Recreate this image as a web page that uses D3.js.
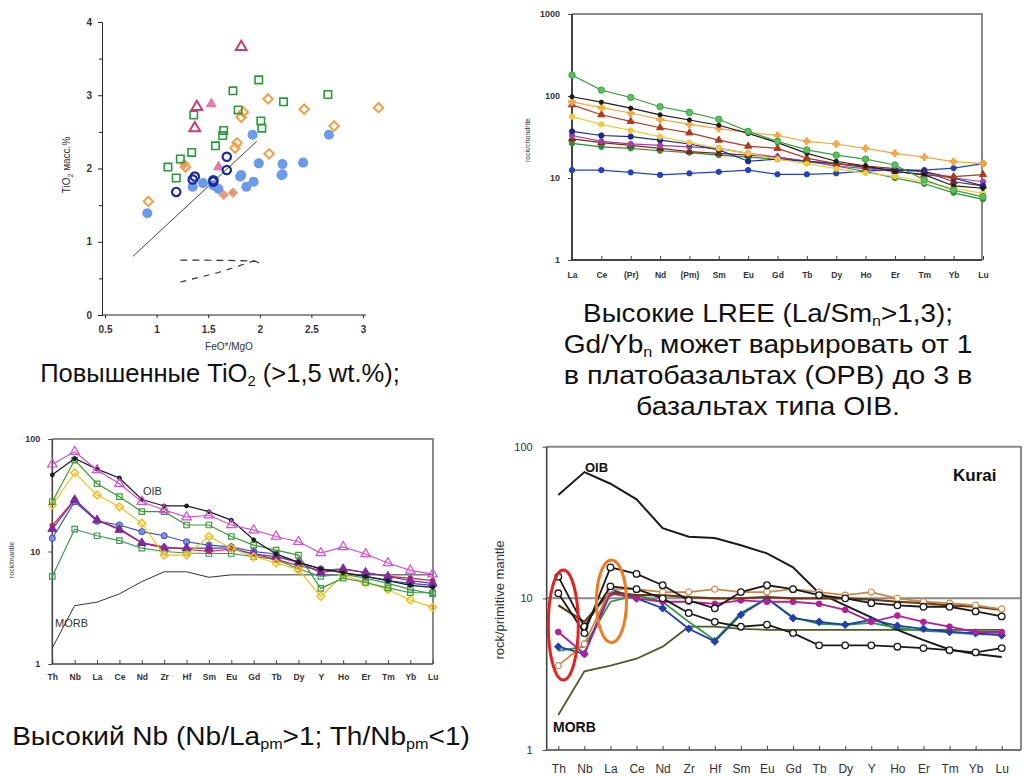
<!DOCTYPE html>
<html lang="ru">
<head>
<meta charset="UTF-8">
<title>TiO2, REE, spider diagrams</title>
<style>
  body { margin: 0; background: #fff; }
  svg { display: block; font-family: "Liberation Sans", Arial, sans-serif; }
</style>
<script src="https://d3js.org/d3.v7.min.js"></script>
</head>
<body>
<div id="chart"></div>
<script>
// ---------- panel 1: TiO2 vs FeO*/MgO ----------
const tio2TriOpen = [[1.82,3.66],[1.39,2.84],[1.37,2.55]];
const tio2TriFilled = [[1.53,2.88],[1.60,2.02]];
const tio2Squares = [[1.99,3.21],[1.74,3.06],[2.23,2.91],[2.66,3.01],[1.36,2.73],[1.79,2.80],[2.01,2.65],[2.02,2.55],[1.65,2.52],[1.64,2.45],[1.57,2.31],[1.34,2.22],[1.23,2.13],[1.11,2.02],[1.19,1.87]];
const tio2Diamonds = [[2.08,2.95],[2.43,2.81],[3.15,2.83],[2.72,2.58],[1.84,2.77],[1.82,2.70],[1.78,2.35],[2.09,2.20],[1.28,2.02],[0.92,1.55],[1.76,2.28]];
const tio2DiamondsFilled = [[1.65,1.64],[1.74,1.67],[1.27,2.06]];
const tio2Dots = [[1.93,2.46],[2.67,2.46],[1.99,2.07],[2.22,2.06],[2.42,2.08],[2.22,1.92],[1.82,1.91],[0.91,1.39],[1.35,1.75],[1.55,1.77],[1.81,1.89],[1.87,1.75],[1.94,1.82],[2.21,1.91],[1.45,1.80],[1.60,1.72]];
const tio2Rings = [[1.68,2.16],[1.68,1.98],[1.37,1.89],[1.55,1.84],[1.19,1.68],[1.35,1.85],[1.55,1.82]];
const tio2Trend = [[0.77,0.80],[1.97,2.37]];
const tio2DashUpper = [[1.23,0.75],[1.87,0.74],[1.96,0.73],[2.0,0.70]];
const tio2DashLower = [[1.23,0.45],[1.60,0.58],[1.97,0.75]];
const tio2XTicks = [0.5,1,1.5,2,2.5,3];
const tio2YTicks = [0,1,2,3,4];

// ---------- panel 2: REE / chondrite ----------
const reeCats = ["La","Ce","(Pr)","Nd","(Pm)","Sm","Eu","Gd","Tb","Dy","Ho","Er","Tm","Yb","Lu"];
const reeGreen   = [180,118,96,74,63,52,37,28,22,19,17,14.4,9.5,7.1,5.9];
const reeBlack   = [98,84,71,59,51,44,35,27,20,16,14,12,11,8,7.5];
const reeOrange  = [85,72,62,52,45,40,36,33,28,26,23,20,18,15.8,15];
const reeRed     = [78,59,49,41,35.5,29,24.5,23,17.5,15,13.8,12,11,10.4,11];
const reeYellow  = [56,45,38,32,27,23,20,17,15,13,11.5,10.5,9,7.5,6.5];
const reeNavy    = [37,33,32,29,26,22,16,17,16,15,13.5,12.5,12,10,8];
const reePurple  = [33,28,26,25,24,23,20,18,16,14,13,12,11,10,9];
const reeGreen2  = [26.5,24,23,21.5,20.4,19,18,17,16,14,12,10,8.5,6.6,5.5];
const reeBrown   = [30,27,25,23,21,20,19,18,16,15,14,13,12,9,8];
const reeBlue    = [12.5,12.5,11.7,10.9,11.4,11.9,12.5,11.1,11.1,11.4,12.2,12.5,12.5,13.2,15];
const reeYTicks = [1,10,100,1000];

// ---------- panel 3: rock / mantle ----------
const pmCats = ["Th","Nb","La","Ce","Nd","Zr","Hf","Sm","Eu","Gd","Tb","Dy","Y","Ho","Er","Tm","Yb","Lu"];
const pmMagenta = [59.6,77,53,40,27.7,23.4,20.2,21,17.2,15.5,13.6,12.2,9.7,11,9.5,7.9,6.8,6.3];
const pmOib     = [48,67,54,45,29,25.4,25.4,22.6,19,12.7,9.5,8,7,6.5,6,5.5,5,4.8];
const pmGreen   = [27.7,65,40,30.7,22.6,22.6,17.2,17.2,13.6,11.4,10.3,9.3,4.7,5.8,5.3,4.75,4.3,4.3];
const pmYellow  = [25.9,50,31.8,25,17.8,9.3,9.3,13.6,10.7,9.0,7.9,6.9,4.0,6.2,5.3,4.6,3.7,3.2];
const pmPurple  = [15.9,28.7,19,15.6,11.9,10.7,10.7,10.7,10.7,9.5,9,8,6.5,7,6.5,6,5.5,5.2];
const pmBlue    = [13.1,27.7,18.6,17.2,15,13.8,12.2,11.4,11,10,9.5,8,7,6.5,6,5.5,5.2,5];
const pmRed     = [17,29,19,16,12,11,10.5,10,10.5,9.5,8.5,7.5,6.8,7,6.5,6,5.8,5.5];
const pmGreen2  = [6.0,15.8,13.8,12.5,10.7,10,9.7,9.6,9.6,9,8.5,7,6,6.3,5.8,5.2,4.6,4.2];
const pmMorb    = [1.39,3.3,3.55,4.2,5.4,6.6,6.6,5.9,6.2,6.2,6.2,6.2,6.2,6.2,6.2,6.2,6.2,6.2];
const pmYTicks = [1,10,100];

// ---------- panel 4: Kurai, rock / primitive mantle ----------
const kuOib     = [48,68,57,45,29,25.5,25,22.4,19.8,16,10.8,9,7.5,6.2,5.3,4.6,4.3,4.1];
const kuMorb    = [1.7,3.3,3.6,4.0,4.8,6.5,6.5,6.3,6.2,6.2,6.2,6.2,6.2,6.2,6.2,6.2,6.2,6.2];
const kuRing1   = [10.8,5.9,16,14.5,12.2,9.7,8.6,11,12.2,11.5,10.5,10,9.3,9,8.8,8.8,8.2,7.6];
const kuRing2   = [13.9,6.5,12,11.5,10,8,7,6.5,6.7,5.9,4.9,4.9,4.9,4.8,4.7,4.55,4.4,4.7];
const kuTan     = [3.6,5,11.5,11.5,11,11,11.5,11,11,11.5,11,10.5,11,10,9.5,9.3,9,8.5];
const kuBrown   = [9,7,11,10.5,10.5,10.2,10,10,10.2,10,10,10,9.8,9.5,9.3,9,8.8,8.4];
const kuMagenta = [6,4.3,10.8,10,9.5,9.5,9.2,9.7,9.5,9.5,9.2,8.4,7,7.7,7,6.5,6,6];
const kuBlue    = [4.8,4.3,11.5,10,8.6,6.3,5.2,7.8,10,7.4,7,6.7,7.2,6.6,6.3,6,5.9,5.7];
const kuGreen   = [4.5,4.8,9.5,10.5,9.5,7,5.3,8,10,7.5,6.8,6.7,6.9,6.4,6.1,6,5.8,5.8];
const kuYTicks = [1,10,100];
// ellipses: category, low and high value
const kuRedRing = ["Th",2.9,15.4];
const kuOrangeRing = ["La",5.1,17.9];

const svg = d3.select('#chart').append('svg').attr('width',1024).attr('height',776);

function symbolPath(type, size) {
  const map = {circle: d3.symbolCircle, square: d3.symbolSquare, diamond: d3.symbolSquare,
               triangle: d3.symbolTriangle, plus: d3.symbolCross};
  return d3.symbol(map[type], size)();
}

// ================= panel 1 =================
const x1 = d3.scaleLinear().domain([0.5,3]).range([105,363]);
const y1 = d3.scaleLinear().domain([0,4]).range([315,22]);
const p1 = svg.append('g');

p1.append('g').attr('transform','translate(102,0)')
  .call(d3.axisLeft(y1).tickValues(tio2YTicks).tickSize(4).tickPadding(6).tickFormat(d3.format('d')));
p1.append('g').attr('transform','translate(102,0)')
  .call(d3.axisLeft(y1).tickValues([0.5,1.5,2.5,3.5]).tickSize(3).tickFormat(''))
  .select('.domain').remove();
const xAx1 = p1.append('g').attr('transform','translate(0,315)')
  .call(d3.axisBottom(x1).tickValues(tio2XTicks).tickSize(3).tickPadding(8).tickFormat(d3.format('')));
xAx1.select('.domain').remove();
p1.append('line').attr('x1',102).attr('x2',366).attr('y1',315).attr('y2',315).attr('stroke','#222');
p1.selectAll('.tick text').attr('font-size',10).attr('font-weight','bold').attr('fill','#333')
  .attr('font-family','"Liberation Sans", Arial, sans-serif');
p1.selectAll('.domain, .tick line').attr('stroke','#222');

p1.append('text').attr('x',229).attr('y',350).attr('text-anchor','middle').attr('font-size',10).attr('fill','#333')
  .text('FeO*/MgO');
const yl1 = p1.append('text').attr('transform','translate(70,165) rotate(-90)').attr('text-anchor','middle')
  .attr('font-size',10).attr('fill','#333');
yl1.append('tspan').text('TiO');
yl1.append('tspan').attr('font-size',7).attr('dy',3).text('2');
yl1.append('tspan').attr('dy',-3).text(' масс.%');

const ptLine = d3.line().x(d => x1(d[0])).y(d => y1(d[1]));
p1.append('path').datum(tio2Trend).attr('d',ptLine).attr('stroke','#444').attr('stroke-width',1).attr('fill','none');
p1.append('path').datum(tio2DashUpper).attr('d',ptLine.curve(d3.curveMonotoneX)).attr('stroke','#333')
  .attr('stroke-width',1.2).attr('stroke-dasharray','7,5').attr('fill','none');
p1.append('path').datum(tio2DashLower).attr('d',d3.line().x(d => x1(d[0])).y(d => y1(d[1]))).attr('stroke','#333')
  .attr('stroke-width',1.2).attr('stroke-dasharray','6,6').attr('fill','none');

function scatter(data, type, size, stroke, fill, sw) {
  p1.append('g').selectAll('path').data(data).join('path')
    .attr('transform', d => `translate(${x1(d[0])},${y1(d[1])})${type === 'diamond' ? ' rotate(45)' : ''}`)
    .attr('d', symbolPath(type, size))
    .attr('fill', fill).attr('stroke', stroke).attr('stroke-width', sw);
}
scatter(tio2Dots, 'circle', 80, 'none', '#6b9be8', 0);
scatter(tio2DiamondsFilled, 'diamond', 55, 'none', '#e39a78', 0);
scatter(tio2Diamonds, 'diamond', 45, '#f0a048', 'none', 2);
scatter(tio2Squares, 'square', 55, '#2a9a3a', 'none', 1.6);
scatter(tio2TriFilled, 'triangle', 55, 'none', '#e07aa6', 0);
scatter(tio2TriOpen, 'triangle', 50, '#c83c78', 'none', 2);
scatter(tio2Rings, 'circle', 55, '#1a2a9e', 'none', 2.2);

// ================= spider panels =================
function spider(cfg) {
  const g = svg.append('g');
  const x = d3.scalePoint().domain(cfg.cats).range([cfg.x0, cfg.x1]);
  const y = d3.scaleLog().domain(cfg.yDomain).range([cfg.yBottom, cfg.yTop]);

  // frame (top and right) in grey
  g.append('path').attr('d', `M${cfg.axisX},${cfg.yTop}H${cfg.frameRight}V${cfg.yBottom}`)
    .attr('fill','none').attr('stroke', '#8a8a8a').attr('stroke-width', cfg.frameWidth);
  if (cfg.refLine) {
    g.append('line').attr('x1',cfg.axisX).attr('x2',cfg.frameRight)
      .attr('y1',y(cfg.refLine)).attr('y2',y(cfg.refLine)).attr('stroke','#8a8a8a').attr('stroke-width',2);
  }

  const ya = g.append('g').attr('transform',`translate(${cfg.axisX},0)`)
    .call(d3.axisLeft(y).tickValues(cfg.yTicks).tickFormat(d3.format('d')).tickSize(4).tickPadding(cfg.yPad));
  ya.select('.domain').remove();
  const xa = g.append('g').attr('transform',`translate(0,${cfg.yBottom})`)
    .call(d3.axisBottom(x).tickSize(-4).tickPadding(cfg.xPad));
  xa.select('.domain').remove();
  g.append('line').attr('x1',cfg.axisX).attr('x2',cfg.axisX).attr('y1',cfg.yTop).attr('y2',cfg.yBottom)
    .attr('stroke','#444').attr('stroke-width',cfg.axisWidth);
  g.append('line').attr('x1',cfg.axisX).attr('x2',cfg.frameRight).attr('y1',cfg.yBottom).attr('y2',cfg.yBottom)
    .attr('stroke','#444').attr('stroke-width',cfg.axisWidth);
  g.selectAll('.tick line').attr('stroke','#444');
  g.selectAll('.tick text').attr('font-family','"Liberation Sans", Arial, sans-serif')
    .attr('fill','#333').attr('font-weight',cfg.tickBold ? 'bold' : 'normal');
  ya.selectAll('.tick text').attr('font-size',cfg.yFont);
  xa.selectAll('.tick text').attr('font-size',cfg.xFont);

  g.append('text').attr('transform',`translate(${cfg.yLabelX},${cfg.yLabelY}) rotate(-90)`)
    .attr('text-anchor','middle').attr('font-size',cfg.yLabelFont).attr('fill','#333').text(cfg.yLabel);

  const line = d3.line().x(d => x(d.c)).y(d => y(d.v));
  cfg.series.forEach(s => {
    const pts = cfg.cats.map((c, i) => ({c, v: s.values[i]}));
    g.append('path').datum(pts).attr('d', line).attr('fill','none')
      .attr('stroke', s.color).attr('stroke-width', s.width || cfg.lineWidth);
    if (s.marker) {
      g.append('g').selectAll('path').data(pts).join('path')
        .attr('transform', d => `translate(${x(d.c)},${y(d.v)})${s.marker === 'diamond' ? ' rotate(45)' : ''}`)
        .attr('d', symbolPath(s.marker, s.size || cfg.markerSize))
        .attr('fill', s.fill || s.color).attr('stroke', s.stroke || s.color)
        .attr('stroke-width', s.sw || 1);
    }
  });
  return {g, x, y};
}

// panel 2
spider({
  cats: reeCats, x0: 572, x1: 983, yDomain: [1,1000], yBottom: 260, yTop: 14,
  axisX: 572, frameRight: 982, frameWidth: 2, axisWidth: 2,
  yTicks: reeYTicks, yPad: 8, xPad: 12, yFont: 9, xFont: 8.5, tickBold: true,
  yLabel: 'rock/chondrite', yLabelX: 530, yLabelY: 140, yLabelFont: 7,
  lineWidth: 1.2, markerSize: 22,
  series: [
    {values: reeBlue, color: '#2342b8', marker: 'circle'},
    {values: reeGreen2, color: '#2e8e2e', marker: 'circle'},
    {values: reeBrown, color: '#7a2a1a', marker: 'triangle'},
    {values: reePurple, color: '#a040a8', marker: 'circle'},
    {values: reeNavy, color: '#1a2a8a', marker: 'circle'},
    {values: reeYellow, color: '#f0c83c', marker: 'circle'},
    {values: reeRed, color: '#b03a1e', marker: 'triangle'},
    {values: reeOrange, color: '#f0a848', marker: 'plus', size: 26},
    {values: reeBlack, color: '#1c1c1c', marker: 'circle', size: 14},
    {values: reeGreen, color: '#3aa040', marker: 'circle', size: 32, fill: '#5cc060'}
  ]
});

// panel 3
const s3 = spider({
  cats: pmCats, x0: 52.3, x1: 432.7, yDomain: [1,100], yBottom: 664, yTop: 439,
  axisX: 52.3, frameRight: 433, frameWidth: 2, axisWidth: 1.6,
  yTicks: pmYTicks, yPad: 8, xPad: 10, yFont: 9, xFont: 8.5, tickBold: true,
  yLabel: 'rock/mantle', yLabelX: 14, yLabelY: 560, yLabelFont: 7,
  lineWidth: 1.2, markerSize: 30,
  series: [
    {values: pmMorb, color: '#333', width: 1},
    {values: pmGreen2, color: '#3e9a58', marker: 'square', fill: 'none', sw: 1.2},
    {values: pmBlue, color: '#3452c4', marker: 'circle', fill: '#7f90e0', sw: 1},
    {values: pmRed, color: '#c03040', marker: 'circle', size: 18},
    {values: pmPurple, color: '#7c2c9c', marker: 'triangle', size: 34},
    {values: pmYellow, color: '#f0c020', marker: 'diamond', fill: 'none', sw: 1.6},
    {values: pmGreen, color: '#3a9a3a', marker: 'square', fill: 'none', sw: 1.2},
    {values: pmOib, color: '#1c1c1c', marker: 'circle', size: 12},
    {values: pmMagenta, color: '#d050d0', marker: 'triangle', fill: 'none', sw: 1.2, size: 38}
  ]
});
s3.g.append('text').attr('x',143).attr('y',495).attr('font-size',11).attr('fill','#333').text('OIB');
s3.g.append('text').attr('x',55).attr('y',627).attr('font-size',11).attr('fill','#333').text('MORB');

// panel 4
const s4 = spider({
  cats: pmCats, x0: 558.3, x1: 1001.7, yDomain: [1,100], yBottom: 750, yTop: 446.7,
  axisX: 546.7, frameRight: 1021, frameWidth: 2, axisWidth: 1.6, refLine: 10,
  yTicks: kuYTicks, yPad: 10, xPad: 14, yFont: 11, xFont: 12, tickBold: false,
  yLabel: 'rock/primitive mantle', yLabelX: 504, yLabelY: 600, yLabelFont: 13,
  lineWidth: 1.8, markerSize: 34,
  series: [
    {values: kuMorb, color: '#4e5a2c', width: 1.8},
    {values: kuOib, color: '#1a1a1a', width: 2},
    {values: kuGreen, color: '#2f9a3a', width: 1.8},
    {values: kuBlue, color: '#1f3fae', marker: 'diamond', size: 26},
    {values: kuMagenta, color: '#b0209a', marker: 'circle', size: 26},
    {values: kuBrown, color: '#6b3b14', width: 2.2},
    {values: kuTan, color: '#c8884a', marker: 'circle', fill: '#fff', sw: 1.2, size: 30},
    {values: kuRing2, color: '#1a1a1a', marker: 'circle', fill: '#fff', sw: 1.3},
    {values: kuRing1, color: '#1a1a1a', marker: 'circle', fill: '#fff', sw: 1.3}
  ]
});
function ring(r, color, dx) {
  const cy0 = s4.y(r[2]), cy1 = s4.y(r[1]);
  s4.g.append('ellipse').attr('cx', s4.x(r[0]) + dx).attr('cy', (cy0 + cy1) / 2)
    .attr('rx', 15).attr('ry', (cy1 - cy0) / 2)
    .attr('fill','none').attr('stroke', color).attr('stroke-width', 3);
}
ring(kuRedRing, '#e02424', 5);
ring(kuOrangeRing, '#f07a20', 1);
s4.g.append('text').attr('x',953).attr('y',481).attr('font-size',17).attr('font-weight','bold')
  .attr('fill','#111').text('Kurai');
s4.g.append('text').attr('x',585).attr('y',472).attr('font-size',13).attr('font-weight','bold')
  .attr('fill','#111').text('OIB');
s4.g.append('text').attr('x',553).attr('y',732).attr('font-size',14).attr('font-weight','bold')
  .attr('fill','#111').text('MORB');

// ================= captions =================
function caption(parts, cx, baseline, width) {
  const t = svg.append('text').attr('font-size',26).attr('text-anchor','middle').attr('fill','#111');
  let shifted = false;
  parts.forEach(p => {
    if (typeof p === 'string') {
      t.append('tspan').attr('dy', shifted ? -4 : 0).text(p);
      shifted = false;
    } else {
      t.append('tspan').attr('font-size',15).attr('dy',4).text(p.sub);
      shifted = true;
    }
  });
  const w = t.node().getBBox().width;
  t.attr('transform', `translate(${cx},${baseline}) scale(${width / w},1)`);
}
caption(['Повышенные TiO', {sub: '2'}, ' (>1,5 wt.%);'], 220, 382, 360);
caption(['Высокие LREE (La/Sm', {sub: 'n'}, '>1,3);'], 768, 322, 370);
caption(['Gd/Yb', {sub: 'n'}, ' может варьировать от 1'], 768, 353, 409);
caption(['в платобазальтах (OPB) до 3 в'], 768, 384, 409);
caption(['базальтах типа OIB.'], 768, 415, 264);
caption(['Высокий Nb (Nb/La', {sub: 'pm'}, '>1; Th/Nb', {sub: 'pm'}, '<1)'], 241, 745, 458);
</script>
</body>
</html>
